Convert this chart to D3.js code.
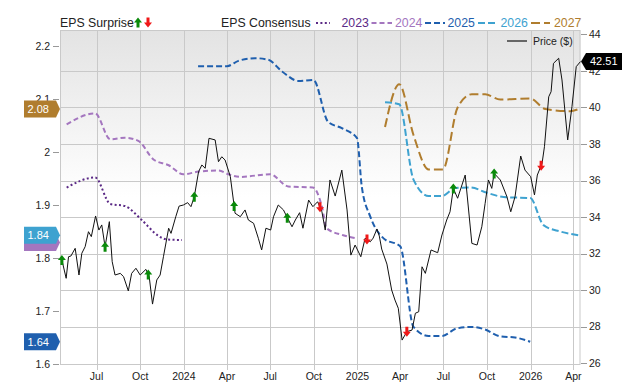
<!DOCTYPE html>
<html><head><meta charset="utf-8">
<script src="https://cdn.jsdelivr.net/npm/d3@7"></script>
<style>
body{margin:0;background:#fff}
svg{display:block}
text{font-family:"Liberation Sans",Arial,Helvetica,sans-serif}
</style>
</head><body>
<svg id="chart" width="640" height="382"></svg>
<script>
// ---------------- DATA ----------------
const priceDates = ["2023-04-19","2023-04-28","2023-05-03","2023-05-08","2023-05-17","2023-05-25","2023-05-31","2023-06-07","2023-06-14","2023-06-20","2023-06-29","2023-07-06","2023-07-12","2023-07-19","2023-07-28","2023-08-03","2023-08-09","2023-08-20","2023-08-27","2023-09-06","2023-09-13","2023-09-22","2023-10-01","2023-10-13","2023-10-20","2023-10-27","2023-11-05","2023-11-12","2023-11-19","2023-11-30","2023-12-05","2023-12-15","2023-12-22","2023-12-31","2024-01-09","2024-01-16","2024-01-23","2024-02-01","2024-02-08","2024-02-15","2024-02-23","2024-03-07","2024-03-14","2024-03-21","2024-03-28","2024-04-08","2024-04-18","2024-04-29","2024-05-09","2024-05-16","2024-05-27","2024-06-06","2024-06-13","2024-06-22","2024-07-02","2024-07-08","2024-07-18","2024-07-29","2024-08-05","2024-08-16","2024-08-23","2024-09-01","2024-09-08","2024-09-20","2024-09-29","2024-10-09","2024-10-18","2024-10-25","2024-11-04","2024-11-15","2024-11-29","2024-12-10","2024-12-18","2024-12-27","2025-01-08","2025-01-17","2025-01-28","2025-02-03","2025-02-11","2025-02-16","2025-02-21","2025-03-04","2025-03-14","2025-03-21","2025-03-28","2025-04-05","2025-04-15","2025-04-26","2025-05-03","2025-05-10","2025-05-17","2025-05-24","2025-06-05","2025-06-19","2025-06-28","2025-07-08","2025-07-15","2025-07-22","2025-07-31","2025-08-16","2025-08-30","2025-09-10","2025-09-20","2025-09-27","2025-10-04","2025-10-11","2025-10-16","2025-10-29","2025-11-12","2025-11-20","2025-11-29","2025-12-11","2025-12-20","2026-01-01","2026-01-09","2026-01-15","2026-01-25","2026-01-30","2026-02-08","2026-02-13","2026-02-18","2026-03-01","2026-03-08","2026-03-20","2026-03-29","2026-04-07","2026-04-16"];
const priceValues = [31.65,30.65,31.83,31.87,32.29,30.83,32.02,32.38,33.2,32.93,34.06,33.29,33.57,32.38,33.75,31.56,30.83,30.92,30.74,29.96,30.92,31.2,30.83,31.14,30.74,29.24,30.56,30.83,31.83,33.39,33.11,34.02,34.6,34.66,34.79,34.57,35.11,36.48,36.85,36.67,38.31,38.22,37.03,37.3,37.12,36.21,34.21,34.02,34.39,33.84,33.66,32.84,32.2,33.39,33.29,34.02,34.66,34.39,34.02,33.47,33.84,34.24,33.39,34.93,34.57,34.84,34.29,33.29,36.03,35.15,36.57,34.39,31.92,32.47,31.83,32.84,32.65,32.85,33.35,32.96,32.25,31.43,30.01,29.46,29.01,27.27,27.73,27.82,28.74,28.82,31.28,30.92,32.2,32.05,33.02,33.84,34.29,35.57,35.03,36.3,32.56,32.47,33.47,34.75,36.03,35.57,36.39,36.03,35.11,34.29,35.11,37.34,36.57,36.21,35.21,36.3,36.94,37.85,40.58,40.86,42.41,42.69,41.5,38.22,40.04,42.23,42.51];

const dates2023 = ["2023-04-29","2023-06-28","2023-07-30","2023-08-30","2023-10-04","2023-11-08","2023-11-26","2023-12-28"];
const eps2023   = [1.933,1.952,1.902,1.898,1.872,1.842,1.835,1.834];

const dates2024 = ["2023-04-29","2023-06-28","2023-07-30","2023-08-30","2023-09-27","2023-10-29","2023-11-30","2023-12-31","2024-02-01","2024-03-14","2024-04-04","2024-04-29","2024-07-01","2024-08-08","2024-09-29","2024-10-18","2024-10-28","2024-12-02","2024-12-31"];
const eps2024   = [2.052,2.073,2.024,2.027,2.021,1.986,1.975,1.958,1.963,1.965,1.958,1.953,1.958,1.935,1.933,1.897,1.856,1.843,1.837];

const dates2025 = ["2024-01-31","2024-04-01","2024-04-25","2024-05-30","2024-06-27","2024-07-26","2024-08-30","2024-09-30","2024-10-31","2024-11-29","2024-12-31","2025-01-10","2025-01-28","2025-02-25","2025-04-01","2025-04-29","2025-05-31","2025-06-28","2025-07-29","2025-08-30","2025-09-27","2025-10-29","2025-11-29","2025-12-31"];
const eps2025   = [2.162,2.162,2.172,2.177,2.174,2.152,2.134,2.136,2.057,2.045,2.026,1.935,1.878,1.837,1.822,1.670,1.653,1.653,1.667,1.670,1.665,1.652,1.650,1.642];

const dates2026 = ["2025-02-28","2025-03-30","2025-04-29","2025-05-31","2025-06-28","2025-07-26","2025-08-27","2025-10-01","2025-11-05","2025-12-31","2026-01-28","2026-03-04","2026-04-12"];
const eps2026   = [2.094,2.090,1.948,1.917,1.917,1.932,1.933,1.923,1.915,1.913,1.862,1.850,1.843];

const dates2027 = ["2025-02-28","2025-03-30","2025-04-29","2025-05-31","2025-06-30","2025-07-31","2025-08-30","2025-09-27","2025-10-29","2025-12-31","2026-02-01","2026-03-25","2026-04-12"];
const eps2027   = [2.047,2.128,2.032,1.967,1.967,2.084,2.109,2.109,2.099,2.101,2.081,2.077,2.081];

const surpriseDates = ["2023-04-19","2023-07-19","2023-10-18","2024-01-23","2024-04-16","2024-08-06","2024-10-14","2025-01-21","2025-04-15","2025-07-22","2025-10-16","2026-01-23"];
const surpriseTypes = ["up","up","up","up","up","up","down","down","down","up","up","down"];

const xTickDates  = ["2023-07-01","2023-10-01","2024-01-01","2024-04-01","2024-07-01","2024-10-01","2025-01-01","2025-04-01","2025-07-01","2025-10-01","2026-01-01","2026-04-01"];
const xTickLabels = ["Jul","Oct","2024","Apr","Jul","Oct","2025","Apr","Jul","Oct","2026","Apr"];
const epsTicks   = [1.6,1.7,1.8,1.9,2.0,2.1,2.2];
const priceTicks = [26,28,30,32,34,36,38,40,42,44];
const xDomain = ["2023-04-15","2026-04-16"];

const seriesNames  = ["2023","2024","2025","2026","2027"];
const seriesColors = ["#5b2a86","#a476bf","#1f5fae","#3ea2d0","#b07d2e"];
const seriesDash   = ["2,2.4","5,3","6,3","7,3","9,4"];

// ---------------- DRAW ----------------
const parse = d3.utcParse("%Y-%m-%d");
const svg = d3.select("#chart");
const L = 60, R = 580.5, T = 30, B = 364;

const x = d3.scaleUtc().domain(xDomain.map(parse)).range([L, R]);
const yE = d3.scaleLinear().domain([1.6, 2.2]).range([364, 46]);
const yP = d3.scaleLinear().domain([26, 44]).range([363.3, 34.3]);

const defs = svg.append("defs");
const grad = defs.append("linearGradient").attr("id","bg").attr("x1",0).attr("y1",0).attr("x2",0).attr("y2",1);
grad.append("stop").attr("offset","0").attr("stop-color","#e3e3e3");
grad.append("stop").attr("offset","0.5").attr("stop-color","#ffffff");
grad.append("stop").attr("offset","1").attr("stop-color","#ffffff");
svg.append("rect").attr("x",L).attr("y",T).attr("width",R-L).attr("height",B-T).attr("fill","url(#bg)");

const gridC = "#c9c9c9";
// horizontal grid (price ticks)
svg.append("g").selectAll("line").data(priceTicks.filter(v => v > 26 && v < 44)).join("line")
  .attr("x1",L).attr("x2",R).attr("y1",d=>Math.round(yP(d))+0.5).attr("y2",d=>Math.round(yP(d))+0.5)
  .attr("stroke",gridC).attr("stroke-width",1);
// vertical grid
svg.append("g").selectAll("line").data(xTickDates).join("line")
  .attr("x1",d=>Math.round(x(parse(d)))+0.5).attr("x2",d=>Math.round(x(parse(d)))+0.5)
  .attr("y1",T).attr("y2",370).attr("stroke",gridC).attr("stroke-width",1);
// border
svg.append("rect").attr("x",L+0.5).attr("y",T+0.5).attr("width",R-L-1).attr("height",B-T)
  .attr("fill","none").attr("stroke",gridC).attr("stroke-width",1);

// left axis
const gL = svg.append("g");
gL.selectAll("line").data(epsTicks).join("line")
  .attr("x1",53).attr("x2",59).attr("y1",d=>Math.round(yE(d))+0.5).attr("y2",d=>Math.round(yE(d))+0.5)
  .attr("stroke","#999");
gL.selectAll("text").data(epsTicks).join("text")
  .attr("x",50).attr("y",d=>yE(d)).attr("dy","0.35em").attr("text-anchor","end")
  .attr("font-size",10.5).attr("fill","#222").text(d=>d3.format("")(d));
// right axis
const gR = svg.append("g");
gR.selectAll("line").data(priceTicks).join("line")
  .attr("x1",581).attr("x2",587).attr("y1",d=>Math.round(yP(d))+0.5).attr("y2",d=>Math.round(yP(d))+0.5)
  .attr("stroke","#999");
gR.selectAll("text").data(priceTicks).join("text")
  .attr("x",589).attr("y",d=>yP(d)).attr("dy","0.35em")
  .attr("font-size",10.5).attr("fill","#222").text(d=>d);
// x labels
svg.append("g").selectAll("text").data(xTickDates).join("text")
  .attr("x",d=>x(parse(d))).attr("y",380).attr("text-anchor","middle")
  .attr("font-size",10.5).attr("fill","#222").text((d,i)=>xTickLabels[i]);

// consensus lines
const consensus = [[dates2023,eps2023],[dates2024,eps2024],[dates2025,eps2025],[dates2026,eps2026],[dates2027,eps2027]];
const lineE = d3.line().x(d=>x(d[0])).y(d=>yE(d[1])).curve(d3.curveMonotoneX);
consensus.forEach(([ds,vs],i)=>{
  const pts = ds.map((d,j)=>[parse(d),vs[j]]);
  svg.append("path").datum(pts).attr("d",lineE).attr("fill","none")
    .attr("stroke",seriesColors[i]).attr("stroke-width",2).attr("stroke-dasharray",seriesDash[i]);
});

// price line
const pricePts = priceDates.map((d,i)=>[parse(d),priceValues[i]]);
svg.append("path").datum(pricePts)
  .attr("d",d3.line().x(d=>x(d[0])).y(d=>yP(d[1])))
  .attr("fill","none").attr("stroke","#111").attr("stroke-width",1);

// surprise arrows
const upPath = "M0,-5 L4,0 L1.5,0 L1.5,5 L-1.5,5 L-1.5,0 L-4,0 Z";
const downPath = "M0,5 L4,0 L1.5,0 L1.5,-5 L-1.5,-5 L-1.5,0 L-4,0 Z";
const bis = d3.bisector(d=>d[0]).left;
function priceAt(dt){
  const i = Math.max(1, Math.min(pricePts.length-1, bis(pricePts, dt)));
  const a = pricePts[i-1], b = pricePts[i];
  const t = (dt - a[0])/(b[0]-a[0]);
  return a[1] + (b[1]-a[1])*Math.max(0,Math.min(1,t));
}
svg.append("g").selectAll("path").data(surpriseDates).join("path")
  .attr("transform",d=>`translate(${x(parse(d))},${yP(priceAt(parse(d)))})`)
  .attr("d",(d,i)=>surpriseTypes[i]==="up"?upPath:downPath)
  .attr("fill",(d,i)=>surpriseTypes[i]==="up"?"#0a8a0a":"#f01818");

// left value tags (last consensus values)
function leftTag(val, color, dy){
  const y = yE(val) + dy;
  svg.append("path").attr("d",`M24,${y-8.5} L56,${y-8.5} L60,${y} L56,${y+8.5} L24,${y+8.5} Z`).attr("fill",color);
  return y;
}
const last = a => a[a.length-1];
leftTag(last(eps2024), seriesColors[1], 4);
[[eps2025,2],[eps2026,3],[eps2027,4]].forEach(([arr,ci])=>{
  const y = leftTag(last(arr), seriesColors[ci], 0);
  svg.append("text").attr("x",27.5).attr("y",y).attr("dy","0.36em").attr("font-size",11)
    .attr("fill","#fff").text(d3.format(".2f")(last(arr)));
});

// right price tag
const lp = last(priceValues), yl = yP(lp);
svg.append("path").attr("d",`M581,${yl} L586,${yl-8.5} L622,${yl-8.5} L622,${yl+8.5} L586,${yl+8.5} Z`).attr("fill","#000");
svg.append("text").attr("x",590).attr("y",yl).attr("dy","0.36em").attr("font-size",11).attr("fill","#fff").text(d3.format(".2f")(lp));

// price legend in plot
svg.append("line").attr("x1",507).attr("x2",527).attr("y1",41).attr("y2",41).attr("stroke","#666").attr("stroke-width",2);
svg.append("text").attr("x",533).attr("y",41).attr("dy","0.36em").attr("font-size",10.5).attr("fill","#222").text("Price ($)");

// top legend
svg.append("text").attr("x",60).attr("y",27).attr("font-size",12.3).attr("fill","#222").text("EPS Surprise");
svg.append("path").attr("transform","translate(138,22.5)").attr("d",upPath).attr("fill","#0a8a0a");
svg.append("path").attr("transform","translate(148,22.5)").attr("d",downPath).attr("fill","#f01818");
svg.append("text").attr("x",221).attr("y",27).attr("font-size",12.3).attr("fill","#222").text("EPS Consensus");
const legX = [[316,330,341.5],[371.5,392,395],[425,445,447.5],[478,497,500.5],[531,550,554]];
seriesNames.forEach((n,i)=>{
  const [a,b,tx] = legX[i];
  svg.append("line").attr("x1",a).attr("x2",b).attr("y1",23).attr("y2",23)
    .attr("stroke",seriesColors[i]).attr("stroke-width",2).attr("stroke-dasharray",seriesDash[i]);
  svg.append("text").attr("x",tx).attr("y",27).attr("font-size",12.3).attr("fill",seriesColors[i]).text(n);
});
</script>
</body></html>
